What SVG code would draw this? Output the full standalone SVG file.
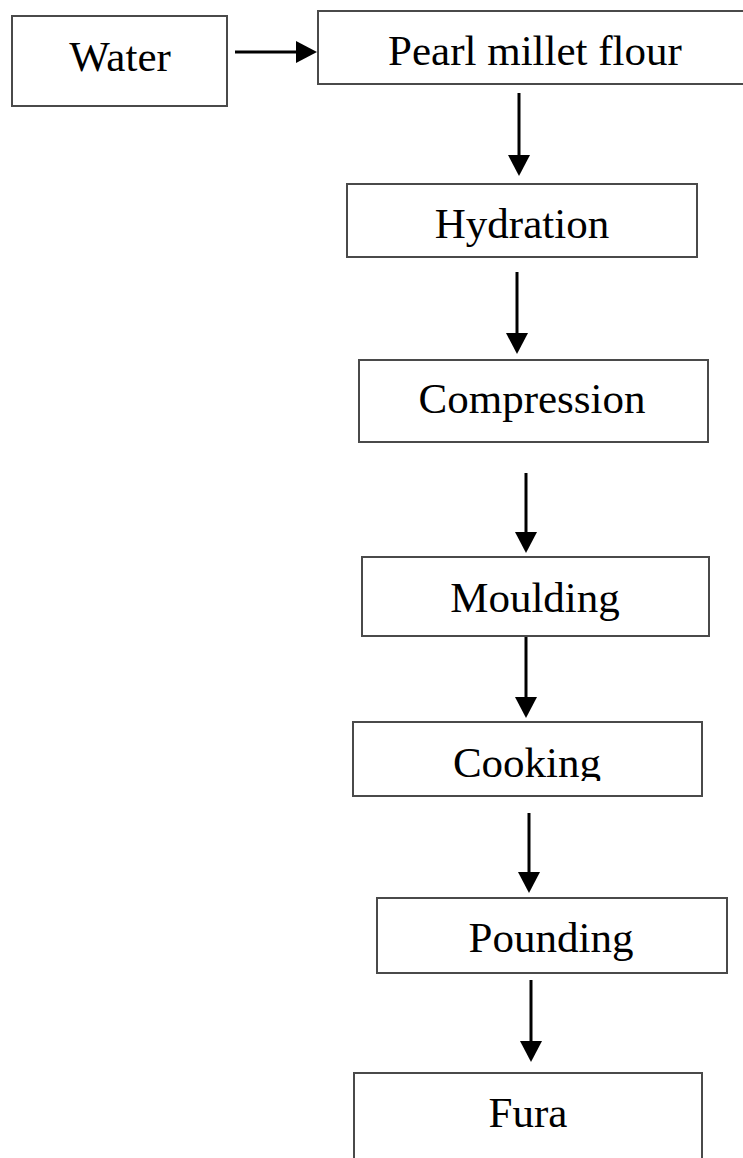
<svg xmlns="http://www.w3.org/2000/svg" width="743" height="1158" viewBox="0 0 743 1158">
  <style>
    .box { fill: #ffffff; stroke: #4a4a4a; stroke-width: 2; }
    .lbl { font-family: "Liberation Serif", "Times New Roman", serif; font-size: 43px; fill: #000000; text-anchor: middle; }
    .arr { stroke: #000000; stroke-width: 3; fill: none; marker-end: url(#head); }
  </style>
  <defs>
    <marker id="head" viewBox="0 0 21 22" markerWidth="21" markerHeight="22" refX="6" refY="11" orient="auto" markerUnits="userSpaceOnUse">
      <path d="M0,0 L21,11 L0,22 Z" fill="#000000"/>
    </marker>
    <clipPath id="cookClip">
      <rect x="353" y="722" width="349" height="59"/>
    </clipPath>
  </defs>
  <rect width="743" height="1158" fill="#ffffff"/>

  <g id="connectors">
    <line class="arr" x1="235" y1="52" x2="302" y2="52"/>
    <line class="arr" x1="519" y1="93" x2="519" y2="161"/>
    <line class="arr" x1="517" y1="272" x2="517" y2="339"/>
    <line class="arr" x1="526" y1="473" x2="526" y2="538"/>
    <line class="arr" x1="526" y1="636" x2="526" y2="703"/>
    <line class="arr" x1="529" y1="813" x2="529" y2="878"/>
    <line class="arr" x1="531" y1="980" x2="531" y2="1047"/>
  </g>

  <g id="water">
    <rect class="box" x="12" y="16" width="215" height="90"/>
    <text class="lbl" x="120" y="71">Water</text>
  </g>
  <g id="pearl-millet-flour">
    <rect class="box" x="318" y="11" width="440" height="73"/>
    <text class="lbl" x="535" y="65">Pearl millet flour</text>
  </g>
  <g id="hydration">
    <rect class="box" x="347" y="184" width="350" height="73"/>
    <text class="lbl" x="522" y="238">Hydration</text>
  </g>
  <g id="compression">
    <rect class="box" x="359" y="360" width="349" height="82"/>
    <text class="lbl" x="532" y="413">Compression</text>
  </g>
  <g id="moulding">
    <rect class="box" x="362" y="557" width="347" height="79"/>
    <text class="lbl" x="535" y="612">Moulding</text>
  </g>
  <g id="cooking">
    <rect class="box" x="353" y="722" width="349" height="74"/>
    <text class="lbl" x="527" y="777" clip-path="url(#cookClip)">Cooking</text>
  </g>
  <g id="pounding">
    <rect class="box" x="377" y="898" width="350" height="75"/>
    <text class="lbl" x="551" y="952">Pounding</text>
  </g>
  <g id="fura">
    <rect class="box" x="354" y="1073" width="348" height="100"/>
    <text class="lbl" x="528" y="1127">Fura</text>
  </g>
</svg>
